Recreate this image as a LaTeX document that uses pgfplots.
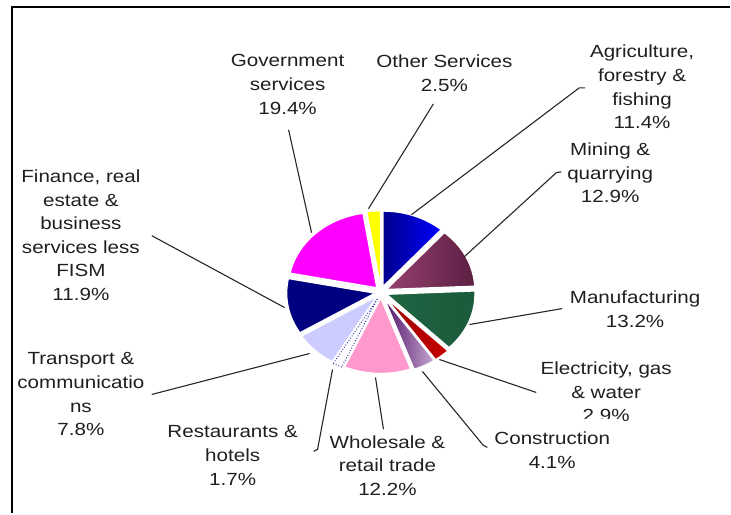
\documentclass[border=0pt]{standalone}
\usepackage{fontspec}
\setmainfont{Liberation Sans}[FakeStretch=1.17]
\usepackage{pgfplots}
\pgfplotsset{compat=1.18}
\usepackage{pgfplotstable}

\definecolor{agriA}{HTML}{00008C}
\definecolor{agriB}{HTML}{0000FF}
\definecolor{minA}{HTML}{96406F}
\definecolor{minB}{HTML}{5C1F42}
\definecolor{manA}{HTML}{1E6442}
\definecolor{manM}{HTML}{3FA070}
\definecolor{manB}{HTML}{1C5A3A}
\definecolor{elec}{HTML}{C00000}
\definecolor{conA}{HTML}{521468}
\definecolor{conB}{HTML}{C8AAD2}
\definecolor{whol}{HTML}{FF99CC}
\definecolor{rest}{HTML}{3030A0}
\definecolor{tran}{HTML}{CCCCFF}
\definecolor{fina}{HTML}{000080}
\definecolor{gove}{HTML}{FF00FF}
\definecolor{othe}{HTML}{FFFF00}

% shares of GDP (%), in the order they are drawn (clockwise from 12 o'clock)
\pgfplotstableread{
sector        share  start
Agriculture   11.4   0.0
Mining        12.9   11.4
Manufacturing 13.2   24.3
Electricity   2.9    37.5
Construction  4.1    40.4
Wholesale     12.2   44.5
Restaurants   1.7    56.7
Transport     7.8    58.4
Finance       11.9   66.2
Government    19.4   78.1
Other         2.5    97.5
}\sharetable

% #1 start (%), #2 share (%), #3 style, #4 explode (px)
\newcommand{\slice}[4]{%
  \pgfmathsetmacro\aA{90-3.6*#1}%
  \pgfmathsetmacro\aB{90-3.6*(#1+#2)}%
  \pgfmathsetmacro\aM{(\aA+\aB)/2}%
  \pgfmathsetmacro\ox{381.5+#4*cos(\aM)}%
  \pgfmathsetmacro\oy{292.5-#4*sin(\aM)}%
  \edef\doslice{\noexpand\addplot[#3, domain=\aB:\aA, samples=60]
    ({\ox+88.5*cos(x)},{\oy-75.5*sin(x)}) -- (axis cs:\ox,\oy) -- cycle;}%
  \doslice
}

\tikzset{lbl/.style={align=center, text=black!88,
  font=\fontsize{9.6}{12.9}\selectfont, inner sep=0pt}}

\begin{document}
\begin{tikzpicture}
\begin{axis}[
  width=14cm, height=9.844cm, scale only axis,
  xmin=0, xmax=731, ymin=0, ymax=514, y dir=reverse,
  hide axis, clip=false]
\draw[draw=none] (axis cs:0,0) rectangle (axis cs:731,514);
% frame
\draw[line width=1.1pt] (axis cs:12.5,514) -- (axis cs:12.5,7) -- (axis cs:731,7);

\slice{0.0}{11.4}{draw=white, line width=0.7pt, left color=agriA, right color=agriB}{6}
\slice{11.4}{12.9}{draw=white, line width=0.7pt, left color=minA, right color=minB}{6}
\slice{24.3}{13.2}{draw=white, line width=0.7pt, left color=manA, middle color=manM, right color=manB}{6}
\slice{37.5}{2.9}{draw=white, line width=0.7pt, left color=elec!80!black, right color=elec!90!red}{7}
\slice{40.4}{4.1}{draw=white, line width=0.7pt, left color=conA, right color=conB}{7}
\slice{44.5}{12.2}{draw=white, line width=0.7pt, fill=whol}{6}
\slice{56.7}{1.7}{fill=white, draw=rest, densely dotted, line width=0.5pt}{7}
\slice{58.4}{7.8}{draw=white, line width=0.7pt, fill=tran}{6}
\slice{66.2}{11.9}{draw=white, line width=0.7pt, fill=fina}{6}
\slice{78.1}{19.4}{draw=white, line width=0.7pt, fill=gove}{6}
\slice{97.5}{2.5}{draw=white, line width=0.7pt, fill=othe}{6}

% labels
\node[lbl] at (axis cs:288,84.7) {Government\\services\\19.4\%};
\node[lbl] at (axis cs:445,73.5) {Other Services\\2.5\%};
\node[lbl] at (axis cs:643,87) {Agriculture,\\forestry \&\\fishing\\11.4\%};
\node[lbl] at (axis cs:611,173) {Mining \&\\quarrying\\12.9\%};
\node[lbl] at (axis cs:636,309.5) {Manufacturing\\13.2\%};
\node[lbl] at (axis cs:607,392.5) {Electricity, gas\\\& water\\2.9\%};
\node[lbl, fill=white, inner xsep=6pt, inner ysep=7pt] at (axis cs:553,451) {Construction\\4.1\%};
\node[lbl] at (axis cs:388,466) {Wholesale \&\\retail trade\\12.2\%};
\node[lbl] at (axis cs:233,456) {Restaurants \&\\hotels\\1.7\%};
\node[lbl] at (axis cs:81,395) {Transport \&\\communicatio\\ns\\7.8\%};
\node[lbl] at (axis cs:81,235.5) {Finance, real\\estate \&\\business\\services less\\FISM\\11.9\%};

% leader lines
\begin{scope}[line width=0.6pt, black!85]
\draw (axis cs:289,130) -- (axis cs:312,233);
\draw (axis cs:434,104) -- (axis cs:369,209);
\draw (axis cs:586,88) -- (axis cs:580,88) -- (axis cs:412,215);
\draw (axis cs:562,172) -- (axis cs:557,173) -- (axis cs:465,257);
\draw (axis cs:563,309) -- (axis cs:470,325);
\draw (axis cs:537,393) -- (axis cs:440,360);
\draw (axis cs:423,372) -- (axis cs:484,446) -- (axis cs:488,448);
\draw (axis cs:376,378) -- (axis cs:384,430);
\draw (axis cs:333,370) -- (axis cs:318,450) -- (axis cs:314,452);
\draw (axis cs:152,395) -- (axis cs:310,354);
\draw (axis cs:152,236) -- (axis cs:285,308);
\end{scope}
\end{axis}
\end{tikzpicture}
\end{document}
